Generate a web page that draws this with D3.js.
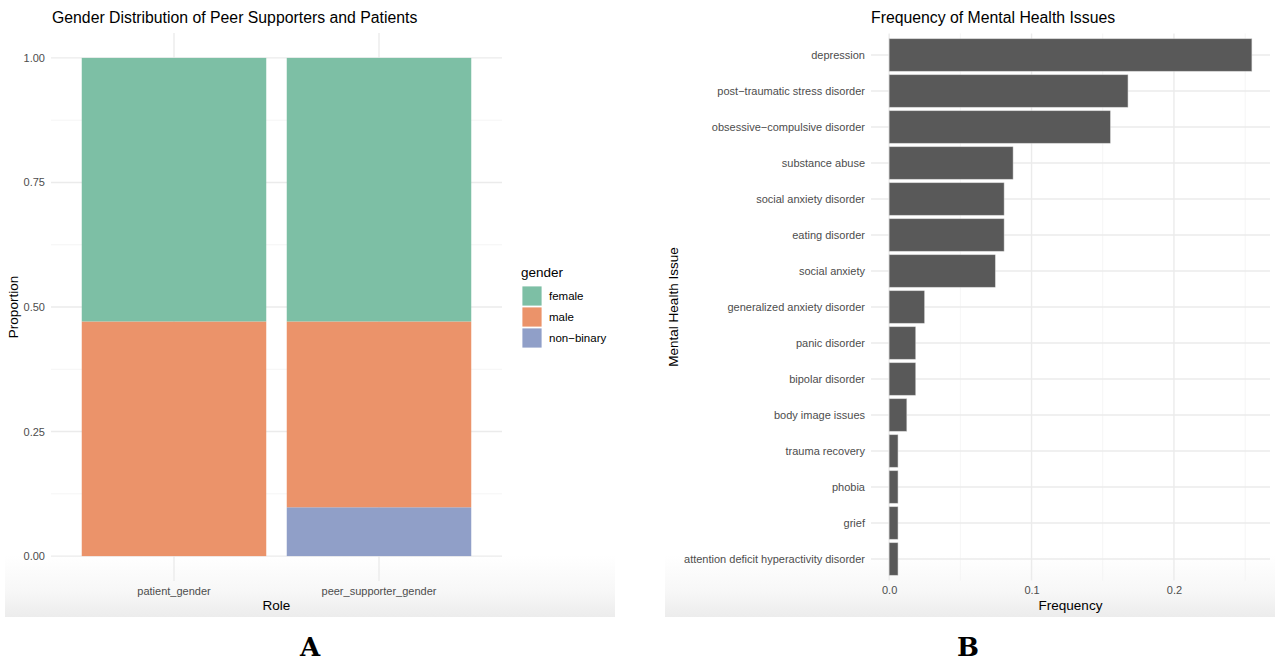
<!DOCTYPE html>
<html>
<head>
<meta charset="utf-8">
<script src="https://cdn.jsdelivr.net/npm/d3@7"></script>
<style>
  html, body { margin: 0; padding: 0; background: #ffffff; }
  svg { display: block; font-family: "Liberation Sans", Arial, sans-serif; }
</style>
</head>
<body>
<svg id="fig" width="1275" height="662"></svg>
<script>
// ---- Panel A data: gender proportions per role ----
const roles = ["patient_gender", "peer_supporter_gender"];
const genders = ["female", "male", "non-binary"];
const femaleShare = [0.529, 0.529];
const maleShare = [0.471, 0.373];
const nonBinaryShare = [0.0, 0.098];
const genderColors = ["#7dbfa5", "#eb936a", "#909fc8"];
const proportionTicks = [0, 0.25, 0.5, 0.75, 1];

// ---- Panel B data: frequency of mental health issues ----
const issues = [
  "depression",
  "post-traumatic stress disorder",
  "obsessive-compulsive disorder",
  "substance abuse",
  "social anxiety disorder",
  "eating disorder",
  "social anxiety",
  "generalized anxiety disorder",
  "panic disorder",
  "bipolar disorder",
  "body image issues",
  "trauma recovery",
  "phobia",
  "grief",
  "attention deficit hyperactivity disorder"
];
const frequencies = [0.2547, 0.1677, 0.1553, 0.0870, 0.0807, 0.0807, 0.0745,
                     0.0248, 0.0186, 0.0186, 0.0124, 0.0062, 0.0062, 0.0062, 0.0062];
const frequencyTicks = [0, 0.1, 0.2];
const frequencyMinorTicks = [0.05, 0.15, 0.25];

const svg = d3.select("#fig");
const TICK_COLOR = "#4d4d4d";
const GRID_MAJOR = "#ebebeb";
const GRID_MINOR = "#f2f2f2";
// hyphens are typeset as minus signs, as R graphics devices do
const typeset = s => s.replace(/-/g, "\u2212");

// soft grey fade at the foot of each panel
const defs = svg.append("defs");
const grad = defs.append("linearGradient").attr("id", "foot").attr("x1", 0).attr("x2", 0).attr("y1", 0).attr("y2", 1);
grad.append("stop").attr("offset", 0).attr("stop-color", "#ffffff");
grad.append("stop").attr("offset", 0.9).attr("stop-color", "#ffffff");
grad.append("stop").attr("offset", 0.96).attr("stop-color", "#f7f7f7");
grad.append("stop").attr("offset", 1).attr("stop-color", "#ececec");
svg.append("rect").attr("x", 5).attr("y", 0).attr("width", 610).attr("height", 617).attr("fill", "url(#foot)");
svg.append("rect").attr("x", 665).attr("y", 0).attr("width", 610).attr("height", 617).attr("fill", "url(#foot)");

// ================= Panel A =================
{
  const left = 51, right = 502, top = 33, bottom = 581;
  const x = d3.scaleBand().domain(roles).range([left, right]).paddingInner(0.1).paddingOuter(0.15);
  const y = d3.scaleLinear().domain([-0.05, 1.05]).range([bottom, top]);
  const g = svg.append("g");

  // minor horizontal grid
  const minor = d3.range(0, proportionTicks.length - 1).map(i => (proportionTicks[i] + proportionTicks[i + 1]) / 2);
  g.selectAll(".minor").data(minor).join("line")
    .attr("x1", left).attr("x2", right).attr("y1", d => y(d)).attr("y2", d => y(d))
    .attr("stroke", GRID_MINOR).attr("stroke-width", 0.8);
  // major horizontal grid
  g.selectAll(".hmajor").data(proportionTicks).join("line")
    .attr("x1", left).attr("x2", right).attr("y1", d => y(d)).attr("y2", d => y(d))
    .attr("stroke", GRID_MAJOR).attr("stroke-width", 1.4);
  // vertical grid at categories
  g.selectAll(".vmajor").data(roles).join("line")
    .attr("x1", d => x(d) + x.bandwidth() / 2).attr("x2", d => x(d) + x.bandwidth() / 2)
    .attr("y1", top).attr("y2", bottom)
    .attr("stroke", GRID_MAJOR).attr("stroke-width", 1.4);

  // stacked proportions: female on top, then male, then non-binary at the base
  const shares = [femaleShare, maleShare, nonBinaryShare];
  const rows = roles.map((r, i) => {
    const o = { role: r };
    genders.forEach((gname, k) => o[gname] = shares[k][i]);
    return o;
  });
  const stack = d3.stack().keys(genders.slice().reverse());
  const layers = stack(rows);
  const color = d3.scaleOrdinal().domain(genders).range(genderColors);
  g.selectAll(".layer").data(layers).join("g")
    .attr("fill", d => color(d.key))
    .selectAll("rect").data(d => d).join("rect")
    .attr("x", d => x(d.data.role))
    .attr("width", x.bandwidth())
    .attr("y", d => y(d[1]))
    .attr("height", d => y(d[0]) - y(d[1]));

  // axes
  const yAxis = d3.axisLeft(y).tickValues(proportionTicks).tickFormat(d3.format(".2f")).tickSize(0).tickPadding(6);
  const ya = g.append("g").attr("transform", `translate(${left},0)`).call(yAxis);
  ya.select(".domain").remove();
  ya.selectAll("text").attr("fill", TICK_COLOR).style("font-size", "11px").attr("font-family", null);

  const xAxis = d3.axisBottom(x).tickSize(0).tickPadding(6);
  const xa = g.append("g").attr("transform", `translate(0,${bottom})`).call(xAxis);
  xa.select(".domain").remove();
  xa.selectAll("text").attr("fill", TICK_COLOR).style("font-size", "11px").attr("font-family", null);

  g.append("text").attr("x", (left + right) / 2).attr("y", 610).attr("text-anchor", "middle")
    .style("font-size", "13.5px").attr("fill", "#000").text("Role");
  g.append("text").attr("transform", `translate(18,${(top + bottom) / 2}) rotate(-90)`).attr("text-anchor", "middle")
    .style("font-size", "13.5px").attr("fill", "#000").text("Proportion");
  g.append("text").attr("x", left + 1).attr("y", 23)
    .style("font-size", "15.8px").attr("fill", "#000").text("Gender Distribution of Peer Supporters and Patients");

  // legend
  const lg = g.append("g").attr("transform", "translate(521,0)");
  lg.append("text").attr("x", 0).attr("y", 277).style("font-size", "13.5px").attr("fill", "#000").text("gender");
  genders.forEach((gname, i) => {
    lg.append("rect").attr("x", 1).attr("y", 286 + i * 21).attr("width", 20).attr("height", 20)
      .attr("fill", color(gname)).attr("stroke", "#ffffff").attr("stroke-width", 0.8);
    lg.append("text").attr("x", 28).attr("y", 300 + i * 21).style("font-size", "11.5px").attr("fill", "#000").text(typeset(gname));
  });
}

// ================= Panel B =================
{
  const left = 871, right = 1270, top = 33.4, bottom = 580.6;
  const fmax = d3.max(frequencies);
  const pad = fmax * 0.05;
  const x = d3.scaleLinear().domain([-pad, fmax + pad]).range([left, right]);
  const y = d3.scaleBand().domain(issues).range([top, bottom]).paddingInner(0.1).paddingOuter(0.15);
  const g = svg.append("g");

  g.selectAll(".vminor").data(frequencyMinorTicks).join("line")
    .attr("x1", d => x(d)).attr("x2", d => x(d)).attr("y1", top).attr("y2", bottom)
    .attr("stroke", GRID_MINOR).attr("stroke-width", 0.8);
  g.selectAll(".vmajor").data(frequencyTicks).join("line")
    .attr("x1", d => x(d)).attr("x2", d => x(d)).attr("y1", top).attr("y2", bottom)
    .attr("stroke", GRID_MAJOR).attr("stroke-width", 1.4);
  g.selectAll(".hmajor").data(issues).join("line")
    .attr("x1", left).attr("x2", right)
    .attr("y1", d => y(d) + y.bandwidth() / 2).attr("y2", d => y(d) + y.bandwidth() / 2)
    .attr("stroke", GRID_MAJOR).attr("stroke-width", 1.4);

  g.selectAll(".bar").data(issues).join("rect")
    .attr("x", x(0))
    .attr("y", d => y(d))
    .attr("height", y.bandwidth())
    .attr("width", (d, i) => x(frequencies[i]) - x(0))
    .attr("fill", "#595959")
    .attr("stroke", "#c8c8c8").attr("stroke-width", 0.5);

  const yAxis = d3.axisLeft(y).tickSize(0).tickPadding(6).tickFormat(typeset);
  const ya = g.append("g").attr("transform", `translate(${left},0)`).call(yAxis);
  ya.select(".domain").remove();
  ya.selectAll("text").attr("fill", TICK_COLOR).style("font-size", "11px").attr("font-family", null);

  const xAxis = d3.axisBottom(x).tickValues(frequencyTicks).tickFormat(d3.format(".1f")).tickSize(0).tickPadding(6);
  const xa = g.append("g").attr("transform", `translate(0,${bottom})`).call(xAxis);
  xa.select(".domain").remove();
  xa.selectAll("text").attr("fill", TICK_COLOR).style("font-size", "11px").attr("font-family", null);

  g.append("text").attr("x", (left + right) / 2).attr("y", 610).attr("text-anchor", "middle")
    .style("font-size", "13.5px").attr("fill", "#000").text("Frequency");
  g.append("text").attr("transform", `translate(678,${(top + bottom) / 2}) rotate(-90)`).attr("text-anchor", "middle")
    .style("font-size", "13.5px").attr("fill", "#000").text("Mental Health Issue");
  g.append("text").attr("x", left).attr("y", 23)
    .style("font-size", "15.8px").attr("fill", "#000").text("Frequency of Mental Health Issues");
}

// panel letters
svg.append("text").attr("x", 310).attr("y", 656).attr("text-anchor", "middle")
  .attr("font-family", "'DejaVu Serif', 'Liberation Serif', serif").attr("font-weight", "bold")
  .style("font-size", "26px").attr("fill", "#000").text("A");
svg.append("text").attr("x", 968).attr("y", 656).attr("text-anchor", "middle")
  .attr("font-family", "'DejaVu Serif', 'Liberation Serif', serif").attr("font-weight", "bold")
  .style("font-size", "26px").attr("fill", "#000").text("B");
</script>
</body>
</html>
